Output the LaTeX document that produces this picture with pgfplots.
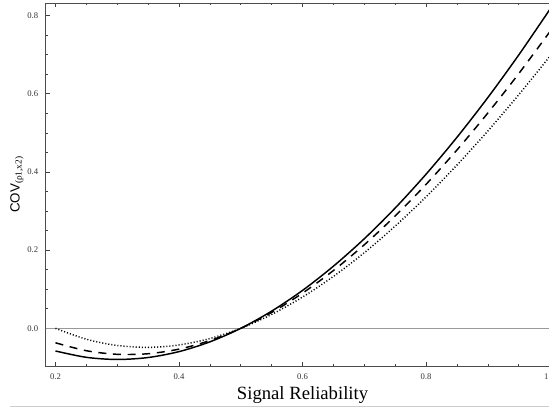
\documentclass[border=0pt]{standalone}
\usepackage{fontspec}
\setmainfont{Liberation Serif}
\setsansfont{Liberation Sans}
\usepackage{pgfplots}
\pgfplotsset{compat=1.18}
\begin{document}
\begin{tikzpicture}
\useasboundingbox (0,0) rectangle (411.75pt,309pt);
\clip (0,0) rectangle (411.75pt,309pt);
\begin{axis}[
  at={(34.2pt,34.5pt)}, anchor=south west,
  scale only axis, width=385.4pt, height=272.3pt,
  xmin=0.184, xmax=1.016, ymin=-0.0964, ymax=0.8325,
  xtick={0.2,0.4,0.6,0.8,1.0},
  xticklabels={0.2,0.4,0.6,0.8,1.0},
  ytick={0,0.2,0.4,0.6,0.8},
  yticklabels={0.0,0.2,0.4,0.6,0.8},
  minor x tick num=3, minor y tick num=3,
  tick pos=both, tick align=inside,
  major tick length=3pt, minor tick length=1.6pt,
  every tick/.style={black!75, line width=0.5pt},
  axis line style={black!70, line width=0.6pt},
  tick label style={font=\fontsize{6.5}{7}\selectfont, text=black!80},
  xticklabel style={yshift=-2pt},
  yticklabel style={xshift=-2pt},
  xlabel={Signal Reliability},
  xlabel style={font=\fontsize{14}{16}\selectfont, yshift=1.5pt},
  ylabel={\textsf{COV}\textsubscript{\fontsize{7}{8}\selectfont(ρ1,x2)}},
  ylabel style={font=\fontsize{10}{12}\selectfont, yshift=-4pt},
  clip=true,
]
\addplot[black!40, line width=1.1pt] coordinates {(0.184,0) (1.016,0)};
\addplot[black, line width=1.1pt, smooth] coordinates {
(0.20,-0.0580) (0.25,-0.0742) (0.30,-0.0797) (0.35,-0.0747) (0.40,-0.0596)
(0.45,-0.0346) (0.50,0.0000) (0.55,0.0440) (0.60,0.0970) (0.65,0.1590)
(0.70,0.2292) (0.75,0.3078) (0.80,0.3944) (0.85,0.4887) (0.90,0.5904)
(0.95,0.6993) (1.00,0.8150)};
\addplot[black, line width=1.1pt, smooth, dash pattern=on 6pt off 5pt] coordinates {
(0.20,-0.0370) (0.25,-0.0573) (0.30,-0.0665) (0.35,-0.0650) (0.40,-0.0532)
(0.45,-0.0314) (0.50,0.0000) (0.55,0.0406) (0.60,0.0900) (0.65,0.1479)
(0.70,0.2138) (0.75,0.2875) (0.80,0.3684) (0.85,0.4563) (0.90,0.5509)
(0.95,0.6515) (1.00,0.7580)};
\addplot[black, line width=1.1pt, smooth, dash pattern=on 0.8pt off 1.5pt] coordinates {
(0.20,0.0000) (0.25,-0.0279) (0.30,-0.0439) (0.35,-0.0487) (0.40,-0.0426)
(0.45,-0.0262) (0.50,0.0000) (0.55,0.0356) (0.60,0.0800) (0.65,0.1328)
(0.70,0.1934) (0.75,0.2615) (0.80,0.3364) (0.85,0.4177) (0.90,0.5049)
(0.95,0.5975) (1.00,0.6950)};
\end{axis}
\draw[black!20, line width=0.8pt] (7.5pt,4.1pt) -- (411.75pt,4.1pt);
\end{tikzpicture}
\end{document}
